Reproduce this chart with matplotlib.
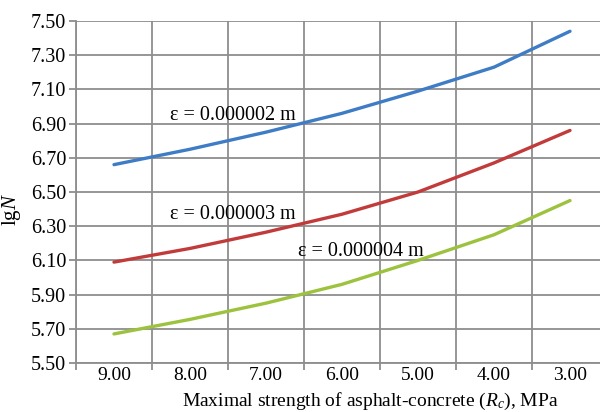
import matplotlib.pyplot as plt
import numpy as np

strength = ["9.00", "8.00", "7.00", "6.00", "5.00", "4.00", "3.00"]
eps2 = [6.66, 6.75, 6.85, 6.96, 7.09, 7.23, 7.44]
eps3 = [6.09, 6.17, 6.265, 6.37, 6.50, 6.67, 6.86]
eps4 = [5.67, 5.755, 5.85, 5.96, 6.10, 6.25, 6.45]
y_ticks = [5.50, 5.70, 5.90, 6.10, 6.30, 6.50, 6.70, 6.90, 7.10, 7.30, 7.50]

plt.rcParams['font.family'] = ['Liberation Serif', 'DejaVu Serif']
plt.rcParams['mathtext.fontset'] = 'custom'
plt.rcParams['mathtext.rm'] = 'Liberation Serif'
plt.rcParams['mathtext.it'] = 'Liberation Serif:italic'

fig = plt.figure(figsize=(6, 4.12), dpi=100)
# plot area runs past the right edge of the picture, as in the source
ax = fig.add_axes([76 / 600, 1 - 363 / 412, 532 / 600, 342 / 412])

x = np.arange(len(strength))
grid_c = '#8e8e8e'

ax.plot(x, eps2, color='#3f7cc6', lw=2.4, solid_capstyle='round')
ax.plot(x, eps3, color='#c23b3b', lw=2.4, solid_capstyle='round')
ax.plot(x, eps4, color='#9cc23e', lw=2.4, solid_capstyle='round')

ax.set_xlim(-0.5, len(strength) - 0.5)
ax.set_ylim(5.50, 7.50)
ax.set_yticks(y_ticks)
ax.set_yticklabels(["%.2f" % v for v in y_ticks])
ax.set_xticks(x)
ax.set_xticklabels(strength)
ax.set_xticks(np.arange(-0.5, len(strength)), minor=True)

ax.grid(True, which='minor', axis='x', color=grid_c, lw=1.3)
ax.grid(True, which='major', axis='y', color=grid_c, lw=1.3)
ax.tick_params(axis='x', which='major', length=0, pad=3, labelsize=14)
ax.tick_params(axis='x', which='minor', length=5, color=grid_c, width=1.3)
ax.tick_params(axis='y', length=5, color=grid_c, width=1.3, labelsize=14.5, pad=2)

for side in ['top', 'right']:
    ax.spines[side].set_visible(False)
for side in ['left', 'bottom']:
    ax.spines[side].set_color(grid_c)
    ax.spines[side].set_linewidth(1.3)

lab = dict(fontsize=14.5, va='center', ha='left')
ax.text(0.74, 6.95, "ε = 0.000002 m", **lab)
ax.text(0.74, 6.37, "ε = 0.000003 m", **lab)
ax.text(2.42, 6.15, "ε = 0.000004 m", **lab)

ax.set_ylabel("lg$\\it{N}$", fontsize=15, labelpad=0)
ax.yaxis.set_label_coords(-0.1, 0.45)
ax.set_xlabel("Maximal strength of asphalt-concrete ($R_c$), MPa", fontsize=14)
ax.xaxis.set_label_coords((370 - 76) / 532, -(391 - 363) / 342)

fig.savefig("out.png", dpi=100)
